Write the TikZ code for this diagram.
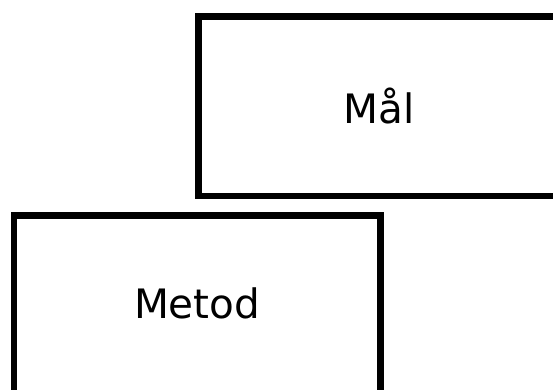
\documentclass[tikz,border=0pt]{standalone}
\usepackage{fontspec}
\setmainfont{DejaVu Sans}
\begin{document}
\begin{tikzpicture}[x=1pt,y=-1pt,
  box/.style={draw=black,line width=6.5pt,rectangle,inner sep=0pt},
  lbl/.style={inner sep=0pt,font=\fontsize{40.5}{48}\selectfont,text=black}]
\useasboundingbox (0,0) rectangle (553,390);
\clip (0,0) rectangle (553,390);
\fill[white] (0,0) rectangle (553,390);
\node[box,minimum width=361pt,minimum height=179.3pt] (mal) at (379,106.3) {};
\node[lbl] (maltext) at (mal.center) {Mål};
\node[box,minimum width=366.7pt,minimum height=184pt] (metod) at (197.15,307.3) {};
\node[lbl] (metodtext) at (197.15,303.7) {Metod};
\end{tikzpicture}
\end{document}
